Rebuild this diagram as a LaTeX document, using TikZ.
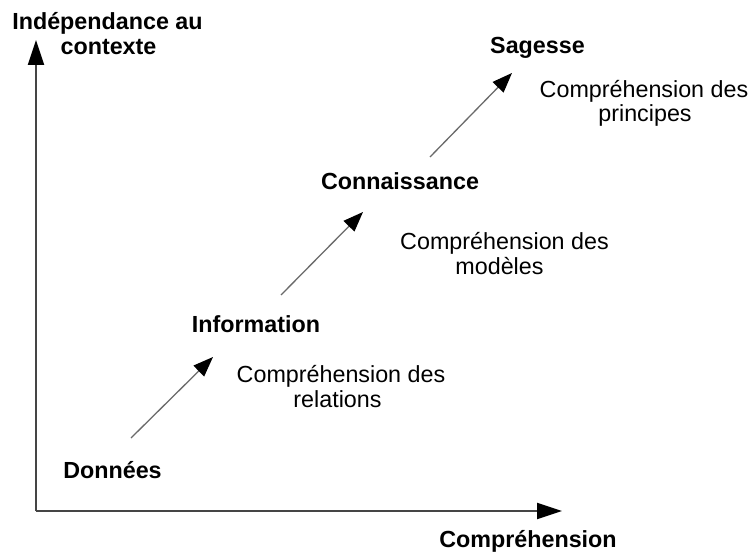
\documentclass[tikz,border=0pt]{standalone}
\usepackage{fontspec}
\setmainfont{Liberation Sans}
\usetikzlibrary{arrows.meta}
\definecolor{axisgray}{HTML}{454545}
\definecolor{arrowgray}{HTML}{6A6A6A}
\begin{document}
\begin{tikzpicture}[x=1pt,y=-1pt,
  lbl/.style={inner sep=0pt, anchor=base, font=\fontsize{23.3pt}{25pt}\selectfont\bfseries},
  desc/.style={inner sep=0pt, anchor=base, font=\fontsize{23.3pt}{25pt}\selectfont},
  axisline/.style={draw=axisgray, line width=2pt, -{Triangle[length=25pt,width=16pt,color=black]}},
  steparrow/.style={draw=arrowgray, line width=1.3pt, -{Triangle[length=20pt,width=15pt,color=black]}}
]
\fill[white] (0,0) rectangle (750,556);
\useasboundingbox (0,0) rectangle (750,556);

\coordinate (O) at (36,511);
\coordinate (ytop) at (36,40);
\coordinate (xend) at (562,511);
\coordinate (a1s) at (131,438);
\coordinate (a1e) at (213,357);
\coordinate (a2s) at (281,295);
\coordinate (a2e) at (363,212);
\coordinate (a3s) at (430,157);
\coordinate (a3e) at (512,73);

\draw[axisline] (O) -- (ytop);
\draw[axisline] (O) -- (xend);
\draw[steparrow] (a1s) -- (a1e);
\draw[steparrow] (a2s) -- (a2e);
\draw[steparrow] (a3s) -- (a3e);

\node[lbl] (ind1) at (107.5,30) {Indépendance au};
\node[lbl] (ind2) at (108.5,55) {contexte};
\node[lbl] (comp) at (528,547) {Compréhension};
\node[lbl] (don) at (112.5,478) {Données};
\node[lbl] (inf) at (256,332) {Information};
\node[lbl] (con) at (400,190) {Connaissance};
\node[lbl] (sag) at (537.5,54) {Sagesse};

\node[desc] (r1) at (341,382) {Compréhension des};
\node[desc] (r2) at (337.5,407) {relations};
\node[desc] (m1) at (504.5,250) {Compréhension des};
\node[desc] (m2) at (499.5,275) {modèles};
\node[desc] (p1) at (644,98) {Compréhension des};
\node[desc] (p2) at (645,122) {principes};
\end{tikzpicture}
\end{document}
